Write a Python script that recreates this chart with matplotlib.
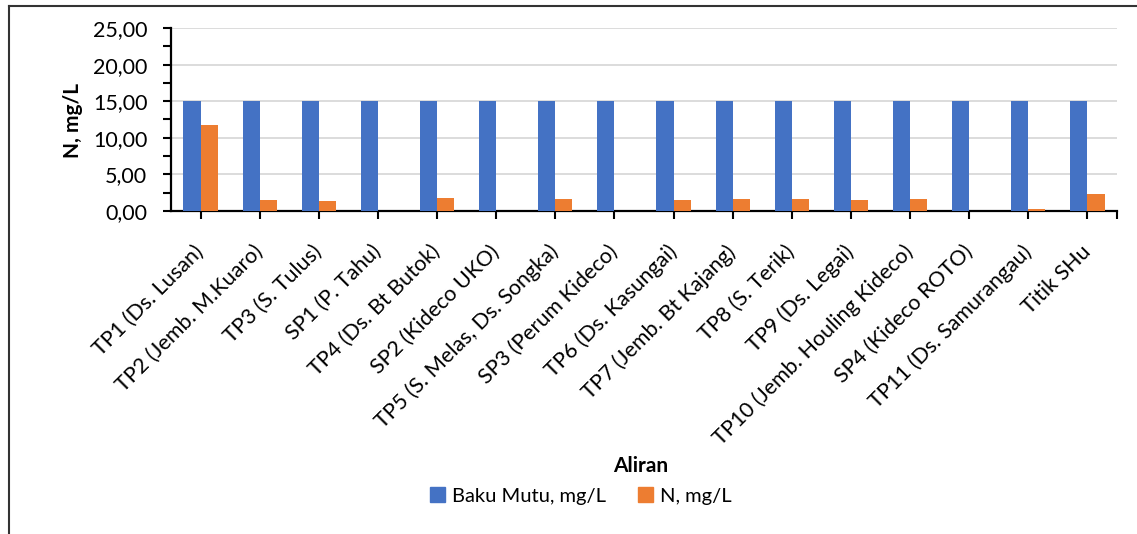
import matplotlib
matplotlib.use("Agg")
import matplotlib.pyplot as plt
from matplotlib.lines import Line2D
from matplotlib.ticker import MultipleLocator, FuncFormatter
import numpy as np

plt.rcParams['font.family'] = ['Lato', 'DejaVu Sans']

categories = [
    "TP1 (Ds. Lusan)", "TP2 (Jemb. M.Kuaro)", "TP3 (S. Tulus)", "SP1 (P. Tahu)",
    "TP4 (Ds. Bt Butok)", "SP2 (Kideco UKO)", "TP5 (S. Melas, Ds. Songka)",
    "SP3 (Perum Kideco)", "TP6 (Ds. Kasungai)", "TP7 (Jemb. Bt Kajang)",
    "TP8 (S. Terik)", "TP9 (Ds. Legai)", "TP10 (Jemb. Houling Kideco)",
    "SP4 (Kideco ROTO)", "TP11 (Ds. Samurangau)", "Titik SHu",
]
baku_mutu = [15.0] * 16
n_values = [11.70, 1.47, 1.33, 0.0, 1.74, 0.0, 1.60, 0.0,
            1.50, 1.60, 1.60, 1.47, 1.70, 0.0, 0.23, 2.38]

series_names = ["Baku Mutu, mg/L", "N, mg/L"]
blue = "#4472C4"
orange = "#ED7D31"

W, H = 1137, 534
fig = plt.figure(figsize=(W / 100, H / 100), dpi=100)
ax = fig.add_axes([171 / W, 1 - 211 / H, (1117 - 171) / W, (211 - 28) / H])

x = np.arange(len(categories))
bw = 0.29
ax.bar(x - bw / 2, baku_mutu, width=bw, color=blue, zorder=3)
ax.bar(x + bw / 2, n_values, width=bw, color=orange, zorder=3)

ax.set_xlim(-0.5, len(categories) - 0.5)
ax.set_ylim(0, 25)
ax.yaxis.set_major_locator(MultipleLocator(5))
ax.yaxis.set_minor_locator(MultipleLocator(2.5))
ax.yaxis.set_major_formatter(FuncFormatter(lambda v, p: f"{v:.2f}".replace(".", ",")))
ax.grid(axis="y", which="major", color="#D9D9D9", linewidth=1.3, zorder=0)

ax.set_xticks(list(x) + [len(categories) - 0.5])
ax.set_xticklabels(categories + [""], rotation=45, ha="right",
                   rotation_mode="anchor", va="center", fontsize=15.5)
ax.tick_params(axis="x", length=6, width=1.5, pad=21, color="black")
ax.tick_params(axis="y", which="both", length=6, width=1.5, direction="out",
               labelsize=15.5, pad=11)

for s in ["top", "right"]:
    ax.spines[s].set_visible(False)
for s in ["left", "bottom"]:
    ax.spines[s].set_linewidth(1.6)
    ax.spines[s].set_color("black")

ax.set_ylabel("N, mg/L", fontsize=15, fontweight="bold")
ax.yaxis.set_label_coords(83 / W, 1 - 120 / H, transform=fig.transFigure)

fig.text(641 / W, 1 - 466 / H, "Aliran", ha="center", va="center",
         fontsize=15, fontweight="bold")

handles = [plt.Rectangle((0, 0), 1, 1, color=blue),
           plt.Rectangle((0, 0), 1, 1, color=orange)]
fig.legend(handles, series_names, loc="center", bbox_to_anchor=(581 / W, 1 - 496 / H),
           ncol=2, frameon=False, fontsize=14.5, handlelength=0.75, handleheight=0.75,
           handletextpad=0.35, columnspacing=1.6)

# chart frame
fig.add_artist(Line2D([9 / W, 9 / W], [0, 1 - 6 / H], transform=fig.transFigure,
                      color="#333333", linewidth=1.5))
fig.add_artist(Line2D([9 / W, 1], [1 - 6 / H, 1 - 6 / H], transform=fig.transFigure,
                      color="#333333", linewidth=1.5))

fig.savefig("out.png", dpi=100)
